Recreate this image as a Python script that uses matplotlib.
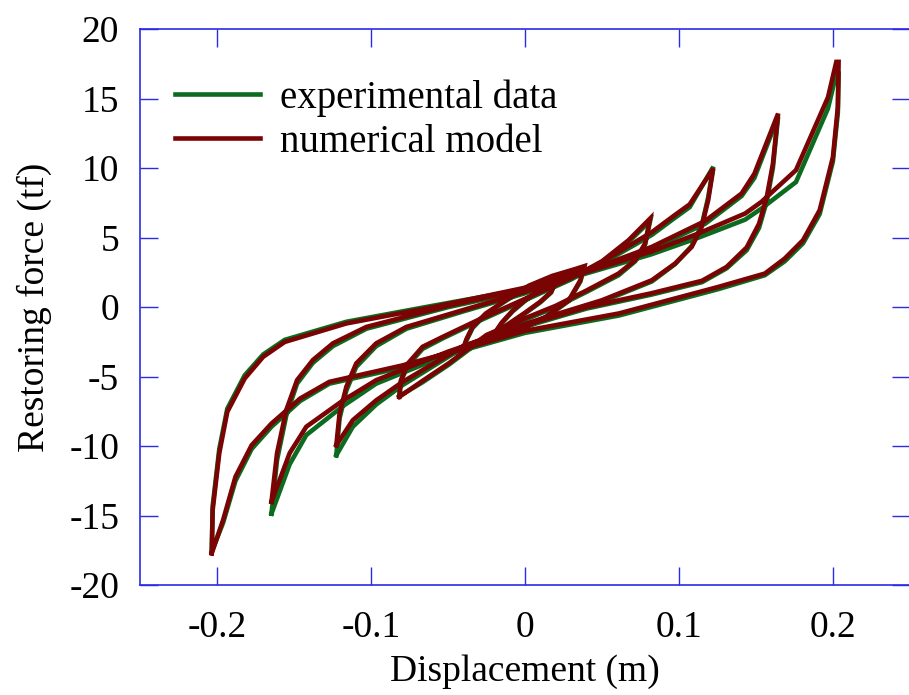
import numpy as np
import matplotlib.pyplot as plt

plt.rcParams['font.family'] = ['Liberation Serif', 'DejaVu Serif']
plt.rcParams['axes.unicode_minus'] = False

# laços de histerese (deslocamento em m, força em tf)
# cada laço: carregamento de -A até +A e descarregamento de volta até -A

# laço +-0.02 m
x_002 = [-0.019, -0.015, -0.008, 0.0, 0.008, 0.014, 0.0199,
         0.017, 0.010, 0.0, -0.008, -0.014, -0.019]
model_002 = [-1.75, -1.1, -0.25, 0.5, 1.15, 1.55, 1.8,
             1.1, 0.4, -0.4, -1.0, -1.45, -1.75]
exp_002 = [-1.8, -1.15, -0.3, 0.45, 1.1, 1.5, 1.85,
           1.05, 0.35, -0.45, -1.05, -1.5, -1.8]

# laço +-0.04 m
x_004 = [-0.0405, -0.038, -0.034, -0.0254, -0.0125, 0.0026, 0.0177, 0.0328, 0.0385,
         0.036, 0.0285, 0.0134, -0.0039, -0.0254, -0.035, -0.0405]
model_004 = [-3.1, -2.3, -1.4, -0.45, 0.5, 1.55, 2.25, 2.75, 2.95,
             1.94, 0.5, -0.7, -1.65, -2.37, -2.8, -3.1]
exp_004 = [-3.15, -2.4, -1.5, -0.5, 0.45, 1.5, 2.2, 2.7, 2.9,
           1.85, 0.45, -0.75, -1.7, -2.45, -2.9, -3.15]

# laço +-0.08 m
x_008 = [-0.0816, -0.0805, -0.076, -0.0665, -0.0535, -0.03, 0.0, 0.03, 0.05, 0.0673, 0.0813,
         0.078, 0.0716, 0.0608, 0.04, 0.02, 0.0, -0.025, -0.049, -0.0665, -0.0816]
model_008 = [-6.45, -5.25, -4.05, -2.85, -2.14, -0.9, 0.6, 2.1, 3.3, 4.82, 6.38,
             4.58, 3.38, 2.42, 1.2, 0.1, -0.8, -2.0, -4.0, -5.3, -6.45]
exp_008 = [-6.4, -5.3, -4.2, -3.0, -2.25, -1.0, 0.5, 2.0, 3.2, 4.7, 6.2,
           4.5, 3.3, 2.3, 1.1, 0.0, -0.9, -2.1, -4.1, -5.4, -6.4]

# laço +-0.12 m
x_012 = [-0.1225, -0.1204, -0.116, -0.1096, -0.0966, -0.077, -0.04, 0.0, 0.04, 0.0824, 0.097, 0.107, 0.1223,
         0.119, 0.1148, 0.1083, 0.0975, 0.0824, 0.05, 0.0, -0.04, -0.0794, -0.0966, -0.1118, -0.1225]
model_012 = [-9.93, -7.65, -5.73, -4.05, -2.6, -1.42, -0.2, 1.1, 2.6, 5.4, 6.6, 7.4, 9.98,
             7.7, 5.78, 4.34, 3.14, 1.94, 0.5, -1.2, -2.8, -5.37, -6.7, -8.13, -9.93]
exp_012 = [-10.65, -8.0, -6.0, -4.3, -2.8, -1.55, -0.3, 1.0, 2.5, 5.2, 6.4, 7.2, 10.1,
           7.9, 5.9, 4.4, 3.1, 1.85, 0.4, -1.3, -2.9, -5.6, -7.0, -8.6, -10.65]

# laço +-0.165 m
x_016 = [-0.1646, -0.161, -0.155, -0.148, -0.1377, -0.1247, -0.103, -0.05, 0.0, 0.05, 0.0824, 0.117,
         0.1407, 0.149, 0.1644,
         0.161, 0.157, 0.152, 0.144, 0.131, 0.115, 0.082, 0.04, 0.0, -0.05, -0.0966, -0.118,
         -0.142, -0.1528, -0.1646]
model_016 = [-14.0, -10.5, -7.4, -5.25, -3.8, -2.6, -1.42, 0.1, 1.3, 3.0, 4.34, 6.2,
             8.18, 9.6, 13.93,
             10.3, 7.9, 6.0, 4.3, 2.9, 1.9, 1.0, 0.0, -1.3, -3.2, -5.25, -6.7,
             -8.6, -10.5, -14.0]
exp_016 = [-14.85, -11.0, -7.8, -5.5, -4.0, -2.8, -1.55, 0.0, 1.2, 2.9, 4.2, 6.0,
           8.0, 9.3, 13.7,
           10.0, 7.6, 5.7, 4.1, 2.8, 1.8, 0.9, -0.1, -1.4, -3.4, -5.5, -7.1,
           -9.2, -11.3, -14.85]

# laço +-0.2 m
x_020 = [-0.2034, -0.2028, -0.1985, -0.1933, -0.182, -0.170, -0.156, -0.116, -0.06, 0.0, 0.039,
         0.082, 0.1126, 0.143, 0.1536, 0.176, 0.1968, 0.2022, 0.2037,
         0.2032, 0.200, 0.1914, 0.1806, 0.1687, 0.1558, 0.1256, 0.061, 0.0, -0.04, -0.08,
         -0.127, -0.146, -0.1646, -0.1775, -0.188, -0.196, -0.2034]
model_020 = [-17.7, -14.6, -10.5, -7.53, -5.13, -3.57, -2.5, -1.17, 0.0, 1.4, 2.5,
             4.0, 5.3, 6.74, 7.58, 9.86, 15.1, 17.65, 17.65,
             14.4, 10.8, 6.98, 4.82, 3.5, 2.42, 1.46, -0.45, -1.7, -3.0, -4.2,
             -5.37, -6.57, -8.37, -9.93, -12.2, -15.3, -17.7]
exp_020 = [-17.6, -14.3, -10.2, -7.3, -4.9, -3.4, -2.35, -1.05, 0.1, 1.3, 2.4,
           3.8, 5.0, 6.3, 7.1, 9.0, 14.3, 16.8, 16.8,
           14.0, 10.5, 6.7, 4.6, 3.3, 2.3, 1.3, -0.6, -1.85, -3.1, -4.35,
           -5.5, -6.75, -8.6, -10.2, -12.5, -15.5, -17.6]

x_loops = [x_002, x_004, x_008, x_012, x_016, x_020]
model_loops = [model_002, model_004, model_008, model_012, model_016, model_020]
exp_loops = [exp_002, exp_004, exp_008, exp_012, exp_016, exp_020]

x_ticks = [-0.2, -0.1, 0, 0.1, 0.2]
x_tick_labels = ['-0.2', '-0.1', '0', '0.1', '0.2']
y_ticks = [-20, -15, -10, -5, 0, 5, 10, 15, 20]
y_tick_labels = ['-20', '-15', '-10', '-5', '0', '5', '10', '15', '20']


def junta(listas):
    # junta os laços separando com nan para não ligar um laço ao outro
    out = []
    for l in listas:
        out += list(l) + [np.nan]
    return np.array(out)


x_all = junta(x_loops)
exp_all = junta(exp_loops)
model_all = junta(model_loops)

fig = plt.figure(figsize=(9.09, 6.95), dpi=100)
ax = fig.add_axes([0.154, 0.158, 0.847, 0.80])

ax.plot(x_all, exp_all, color='#0b6b1f', lw=3.3, label='experimental data', solid_joinstyle='miter')
ax.plot(x_all, model_all, color='#7a0303', lw=3.3, label='numerical model', solid_joinstyle='miter')

ax.set_xlim(-0.25, 0.25)
ax.set_ylim(-20, 20)
ax.set_xticks(x_ticks)
ax.set_xticklabels(x_tick_labels)
ax.set_yticks(y_ticks)
ax.set_yticklabels(y_tick_labels)

azul = '#2b2be6'
for s in ax.spines.values():
    s.set_color(azul)
    s.set_linewidth(1.2)
ax.tick_params(direction='in', length=13, width=1.0, color=azul, labelsize=27,
               top=True, right=True)
ax.tick_params(axis='x', pad=18)
ax.tick_params(axis='y', pad=15)

ax.set_xlabel('Displacement (m)', fontsize=27, labelpad=7)
ax.set_ylabel('Restoring force (tf)', fontsize=27, labelpad=12)

ax.legend(loc='upper left', frameon=False, fontsize=28, handlelength=2.2,
          handletextpad=0.5, labelspacing=0.18, borderaxespad=0.0,
          bbox_to_anchor=(0.025, 0.938))

plt.savefig('out.png', dpi=100)
